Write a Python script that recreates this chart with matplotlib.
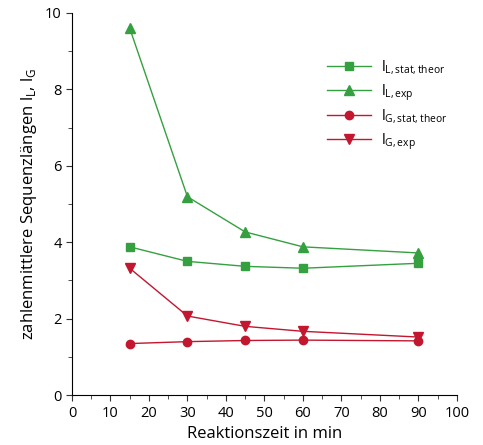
import numpy as np
import matplotlib
matplotlib.use("Agg")
import matplotlib.pyplot as plt
from matplotlib.ticker import MultipleLocator

plt.rcParams['font.family'] = ['Open Sans', 'DejaVu Sans']
plt.rcParams['mathtext.fontset'] = 'custom'
plt.rcParams['mathtext.rm'] = 'Open Sans'

zeit = [15, 30, 45, 60, 90]
l_L_stat = [3.88, 3.50, 3.37, 3.32, 3.45]
l_L_exp = [9.60, 5.19, 4.27, 3.88, 3.72]
l_G_stat = [1.35, 1.40, 1.43, 1.44, 1.42]
l_G_exp = [3.32, 2.07, 1.80, 1.67, 1.52]

green = '#35a040'
red = '#c3162f'

fig = plt.figure(figsize=(4.83, 4.45), dpi=100)
ax = fig.add_axes([0.149, 0.112, 0.797, 0.859])

ax.plot(zeit, l_L_stat, color=green, lw=1, marker='s', ms=6, label=r'l$_{\mathregular{L,stat,theor}}$')
ax.plot(zeit, l_L_exp, color=green, lw=1, marker='^', ms=7, label=r'l$_{\mathregular{L,exp}}$')
ax.plot(zeit, l_G_stat, color=red, lw=1, marker='o', ms=6, label=r'l$_{\mathregular{G,stat,theor}}$')
ax.plot(zeit, l_G_exp, color=red, lw=1, marker='v', ms=7, label=r'l$_{\mathregular{G,exp}}$')

ax.set_xlim(0, 100)
ax.set_ylim(0, 10)
ax.xaxis.set_major_locator(MultipleLocator(10))
ax.xaxis.set_minor_locator(MultipleLocator(5))
ax.yaxis.set_major_locator(MultipleLocator(2))
ax.yaxis.set_minor_locator(MultipleLocator(1))
ax.tick_params(which='both', direction='out', labelsize=10.5, color='#333333')
ax.tick_params(which='major', length=4)
ax.tick_params(which='minor', length=3)
for s in ['top', 'right']:
    ax.spines[s].set_visible(False)

ax.set_xlabel('Reaktionszeit in min', fontsize=12)
ax.set_ylabel(r'zahlenmittlere Sequenzlängen l$_{\mathregular{L}}$, l$_{\mathregular{G}}$', fontsize=12)

ax.legend(loc='upper right', bbox_to_anchor=(1.01, 0.915), frameon=False,
          fontsize=10.5, handlelength=3.0, labelspacing=0.35, handletextpad=0.7)

fig.savefig('out.png', dpi=100)
